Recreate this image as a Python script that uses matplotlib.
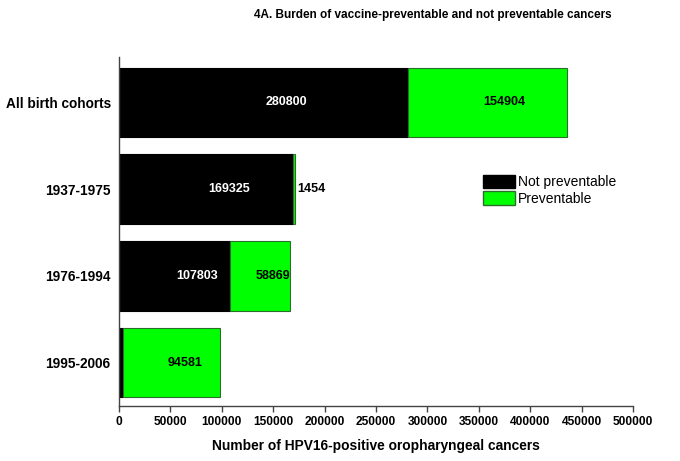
import matplotlib
matplotlib.use("Agg")
import matplotlib.pyplot as plt
from matplotlib.patches import Patch
import numpy as np

plt.rcParams['font.family'] = ['Liberation Sans', 'DejaVu Sans']

cohorts = ["All birth cohorts", "1937-1975", "1976-1994", "1995-2006"]
not_preventable = [280800, 169325, 107803, 3900]
preventable = [154904, 1454, 58869, 94581]
nonprev_labels = ["280800", "169325", "107803", None]
prev_labels = ["154904", "1454", "58869", "94581"]
xticks = list(range(0, 500001, 50000))

fig = plt.figure(figsize=(6.8, 4.61), dpi=100)
ax = fig.add_axes([0.175, 0.119, 0.756, 0.757])

ypos = np.arange(len(cohorts))[::-1]
green = "#00ff00"
ax.barh(ypos, not_preventable, height=0.8, color="black", edgecolor="black", linewidth=0.8)
ax.barh(ypos, preventable, left=not_preventable, height=0.8, color=green,
        edgecolor="#2b6e2b", linewidth=0.8)

for y, npv, pv, nl, pl in zip(ypos, not_preventable, preventable, nonprev_labels, prev_labels):
    if nl:
        ax.annotate(nl, (npv / 2, y), xytext=(1.5, 0), textcoords="offset points",
                    ha="left", va="center", color="white", fontsize=9, fontweight="bold")
    if pl:
        if pv < 10000:
            ax.annotate(pl, (npv + pv, y), xytext=(2, 0), textcoords="offset points",
                        ha="left", va="center", color="black", fontsize=9, fontweight="bold")
        else:
            ax.annotate(pl, (npv + pv / 2, y), xytext=(-3, 0), textcoords="offset points",
                        ha="left", va="center", color="black", fontsize=9, fontweight="bold")

ax.set_xlim(0, 500000)
ax.set_ylim(-0.5, 3.52)
ax.set_xticks(xticks)
ax.set_xticklabels([str(t) for t in xticks], fontsize=8.6, fontweight="bold")
ax.set_yticks(ypos)
ax.set_yticklabels(cohorts, fontsize=9.8, fontweight="bold")
ax.tick_params(axis="y", length=0, pad=6)
ax.tick_params(axis="x", length=4, width=1, color="#444444", pad=3)
for s in ["top", "right"]:
    ax.spines[s].set_visible(False)
for s in ["left", "bottom"]:
    ax.spines[s].set_color("#444444")
    ax.spines[s].set_linewidth(1.0)

ax.set_xlabel("Number of HPV16-positive oropharyngeal cancers", fontsize=9.9,
              fontweight="bold", labelpad=8)

fig.text(0.637, 0.968, "4A. Burden of vaccine-preventable and not preventable cancers",
         ha="center", va="center", fontsize=8.5, fontweight="bold")

handles = [Patch(facecolor="black", edgecolor="black"),
           Patch(facecolor=green, edgecolor="#2b6e2b")]
fig.legend(handles, ["Not preventable", "Preventable"], loc="upper left",
           bbox_to_anchor=(0.710, 0.621), frameon=False, fontsize=10,
           handlelength=2.3, handleheight=1.1, labelspacing=0.15,
           handletextpad=0.2, borderaxespad=0, borderpad=0)

fig.savefig("out.png", dpi=100, facecolor="white")
